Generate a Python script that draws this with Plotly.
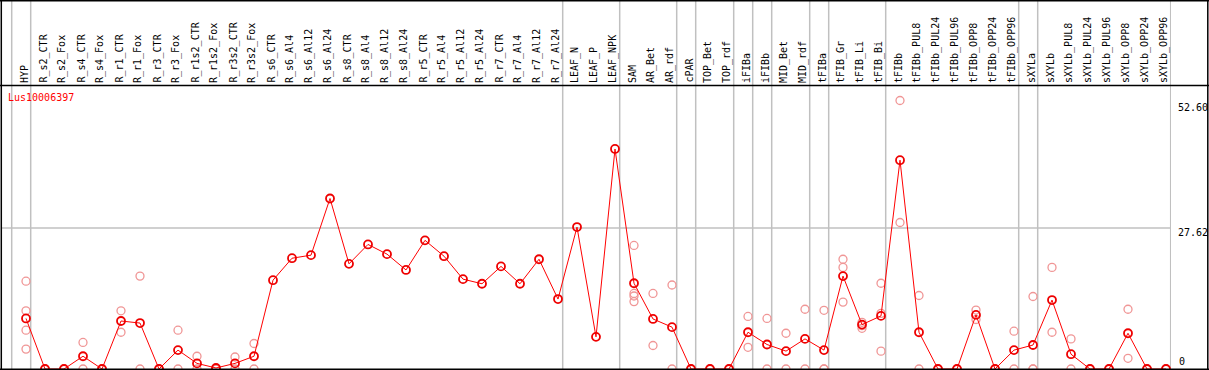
import plotly.graph_objects as go

W, H = 1209, 370

categories = [
    "HYP", "R_s2_CTR", "R_s2_Fox", "R_s4_CTR", "R_s4_Fox", "R_r1_CTR", "R_r1_Fox",
    "R_r3_CTR", "R_r3_Fox", "R_r1s2_CTR", "R_r1s2_Fox", "R_r3s2_CTR", "R_r3s2_Fox",
    "R_s6_CTR", "R_s6_Al4", "R_s6_Al12", "R_s6_Al24", "R_s8_CTR", "R_s8_Al4",
    "R_s8_Al12", "R_s8_Al24", "R_r5_CTR", "R_r5_Al4", "R_r5_Al12", "R_r5_Al24",
    "R_r7_CTR", "R_r7_Al4", "R_r7_Al12", "R_r7_Al24", "LEAF_N", "LEAF_P", "LEAF_NPK",
    "SAM", "AR_Bet", "AR_rdf", "cPAR", "TOP_Bet", "TOP_rdf", "iFIBa", "iFIBb",
    "MID_Bet", "MID_rdf", "tFIBa", "tFIB_Gr", "tFIB_Li", "tFIB_Bi", "tFIBb",
    "tFIBb_PUL8", "tFIBb_PUL24", "tFIBb_PUL96", "tFIBb_OPP8", "tFIBb_OPP24",
    "tFIBb_OPP96", "sXYLa", "sXYLb", "sXYLb_PUL8", "sXYLb_PUL24", "sXYLb_PUL96",
    "sXYLb_OPP8", "sXYLb_OPP24", "sXYLb_OPP96",
]

mean_values = [
    9.9, 0, 0, 2.5, 0, 9.4, 9.0, 0, 3.7, 1.1, 0.2, 1.1, 2.5, 17.4, 21.7, 22.3,
    33.4, 20.6, 24.4, 22.5, 19.4, 25.2, 22.1, 17.6, 16.7, 20.1, 16.7, 21.5, 13.7,
    27.8, 6.3, 43.1, 16.8, 9.8, 8.2, 0, 0, 0, 7.2, 4.8, 3.5, 5.9, 3.7, 18.2, 8.7,
    10.4, 40.9, 7.2, 0, 0, 10.6, 0, 3.7, 4.7, 13.5, 2.9, 0, 0, 7.0, 0, 0,
]

replicates = [
    [17.2, 11.4, 7.6, 3.9], [0, 0], [0, 0], [5.2, 0], [0, 0], [11.4, 7.2],
    [18.2, 0], [0, 0], [7.6, 0], [2.5, 0], [0, 0], [2.35, 0], [5.0, 0],
    [], [], [], [], [], [], [], [], [], [], [], [], [], [], [], [], [], [], [],
    [24.2, 14.8, 14.3, 13.2], [14.8, 4.6], [16.45, 0], [0, 0], [0, 0], [0, 0],
    [10.3, 4.25], [9.9, 0], [7.0, 0], [11.7, 0], [11.5, 0, 0],
    [21.5, 19.9, 13.1], [9.15, 8.5, 7.97], [16.8, 10.9, 3.5], [52.6, 28.7],
    [14.4, 0], [0, 0], [0, 0], [11.55, 9.7], [0, 0], [7.4, 0], [14.2, 0, 0],
    [19.9, 7.2], [5.9, 0], [0, 0], [0, 0], [11.7, 2.1], [0, 0], [0, 0],
]

# group separators: drawn after these column numbers (0 = before the first)
separators_after = [0, 1, 29, 32, 35, 36, 38, 39, 40, 42, 43, 46, 53, 54, 61]

y_ticks = [0, 27.62, 52.60]
y_tick_labels = ["0", "27.62", "52.60"]
gene_name = "Lus10006397"

xs = list(range(1, len(categories) + 1))
rep_x, rep_y = [], []
for i, reps in zip(xs, replicates):
    for v in reps:
        rep_x.append(i)
        rep_y.append(v)

# pixel geometry
px_left, px_right = 2, 1171
px_top, px_bottom = 85, 369
col0_px, col_w = 26, 19
x_range = [(px_left - col0_px) / col_w + 1, (px_right - col0_px) / col_w + 1]
px_per_unit = (369 - 228) / 27.62
y_range = [0, (px_bottom - px_top) / px_per_unit]

fig = go.Figure()
fig.add_trace(go.Scatter(
    x=rep_x, y=rep_y, mode="markers",
    marker=dict(symbol="circle-open", size=8, color="rgb(240,150,150)",
                line=dict(width=1.3, color="rgb(240,150,150)")),
    cliponaxis=False, hoverinfo="skip", showlegend=False,
))
fig.add_trace(go.Scatter(
    x=xs, y=mean_values, mode="lines+markers",
    line=dict(color="#ff0000", width=1),
    marker=dict(symbol="circle-open", size=8, color="#ee0000",
                line=dict(width=1.8, color="#ee0000")),
    cliponaxis=False, showlegend=False,
))

shapes = []
# horizontal grid line at middle tick
shapes.append(dict(type="line", xref="paper", yref="y",
                   x0=px_left / W, x1=1170.7 / W, y0=y_ticks[1], y1=y_ticks[1],
                   line=dict(color="#c0c0c0", width=1.5), layer="below"))
for s in separators_after:
    xv = s + 4.7 / col_w
    shapes.append(dict(type="line", xref="x", yref="paper", x0=xv, x1=xv,
                       y0=0, y1=1, line=dict(color="#c0c0c0", width=1.5),
                       layer="below"))
# frame lines
blk = dict(color="black", width=1.5)
shapes += [
    dict(type="line", xref="paper", yref="paper", x0=0, x1=1, y0=1 - 0.8 / H, y1=1 - 0.8 / H, line=blk),
    dict(type="line", xref="paper", yref="paper", x0=0, x1=1, y0=1 - 85.5 / H, y1=1 - 85.5 / H, line=blk),
    dict(type="line", xref="paper", yref="paper", x0=0, x1=1, y0=0.8 / H, y1=0.8 / H, line=blk),
    dict(type="line", xref="paper", yref="paper", x0=1.3 / W, x1=1.3 / W, y0=0, y1=1, line=blk),
    dict(type="line", xref="paper", yref="paper", x0=1207.8 / W, x1=1207.8 / W, y0=0, y1=1, line=blk),
]

mono = "DejaVu Sans Mono"
annotations = []
for i, name in zip(xs, categories):
    annotations.append(dict(
        x=i, xref="x", y=1 - 84 / H, yref="paper", text=name, showarrow=False,
        textangle=-90, xanchor="center", yanchor="bottom", xshift=-2,
        font=dict(family=mono, size=10, color="black"), borderpad=0,
    ))
annotations.append(dict(
    x=7 / W, xref="paper", y=1 - 98 / H, yref="paper", text=gene_name,
    showarrow=False, xanchor="left", yanchor="middle", borderpad=0,
    font=dict(family=mono, size=10, color="red"),
))
label_shift = {0: 7.3, 1: -4.7, 2: -7.5}
label_x = {0: 1178, 1: 1176.5, 2: 1176.5}
for k, (v, t) in enumerate(zip(y_ticks, y_tick_labels)):
    annotations.append(dict(
        x=label_x[k] / W, xref="paper", y=v, yref="y", yshift=label_shift[k],
        text=t, showarrow=False, xanchor="left", yanchor="middle", borderpad=0,
        font=dict(family=mono, size=10, color="black"),
    ))

fig.update_layout(
    width=W, height=H, autosize=False,
    margin=dict(l=0, r=0, t=0, b=0, pad=0),
    paper_bgcolor="white", plot_bgcolor="white",
    xaxis=dict(range=x_range, domain=[px_left / W, px_right / W], visible=False,
               showgrid=False, zeroline=False, fixedrange=True),
    yaxis=dict(range=y_range, domain=[1 - px_bottom / H, 1 - px_top / H],
               visible=False, showgrid=False, zeroline=False, fixedrange=True),
    shapes=shapes, annotations=annotations, showlegend=False,
)

fig.write_html(
    "out.html",
    config={"displayModeBar": False},
    post_script="document.body.style.margin='0px';document.body.style.overflow='hidden';",
)
